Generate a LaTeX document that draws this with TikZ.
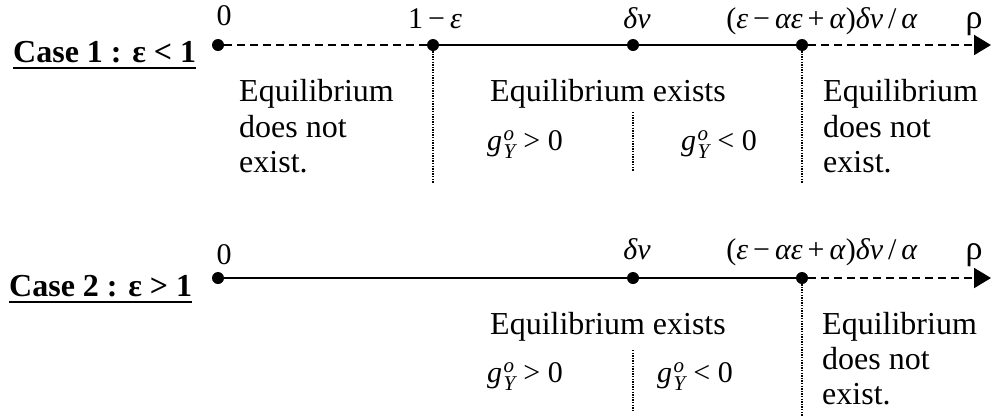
\documentclass[tikz,border=0pt]{standalone}
\usepackage{fontspec}
\usepackage{amsmath}
\setmainfont{Liberation Serif}
\usetikzlibrary{arrows.meta}
\newcommand\gYo{$\textit{g}^{\kern1.5pt\textit{o}}_{\kern1.5pt\textit{Y}}$}
\begin{document}
\begin{tikzpicture}[x=1pt,y=-1pt,
  dot/.style={circle,fill,inner sep=0pt,minimum size=12pt},
  axis/.style={line width=2pt},
  dashaxis/.style={line width=2pt,dash pattern=on 8pt off 5pt},
  vdot/.style={line width=1.3pt,dash pattern=on 1.3pt off 1.3pt},
  lbl/.style={font=\fontsize{30}{34}\selectfont,inner sep=0pt,anchor=base},
  body/.style={font=\fontsize{32}{35.5}\selectfont,inner sep=0pt,anchor=base west},
  gtxt/.style={font=\fontsize{30}{34}\selectfont,inner sep=0pt,anchor=base west},
  case/.style={font=\fontsize{32}{36}\selectfont\bfseries,inner sep=0pt,anchor=base west},
  uline/.style={line width=2.5pt}]
\useasboundingbox (0,0) rectangle (992,416);
% ---------- Case 1 ----------
\node[case] (c1) at (13,62) {Case 1 : ε < 1};
\draw[uline] ([yshift=-6pt]c1.base west) -- ([yshift=-6pt]c1.base east);
\node[dot] (p0) at (218,45) {};
\node[dot] (p1) at (433,45) {};
\node[dot] (p2) at (633,45) {};
\node[dot] (p3) at (802,45) {};
\coordinate (pe) at (991,45);
\draw[dashaxis] (p0) -- (p1);
\draw[axis] (p1) -- (p2);
\draw[axis] (p2) -- (p3);
\draw[dashaxis,-{Triangle[length=17pt,width=20pt]}] (p3) -- (pe);
\node[lbl] (l0) at (224,25) {0};
\node[lbl] (l1) at (435,28) {1\,−\,\textit{ε}};
\node[lbl] (l2) at (637,28) {\textit{δν}};
\node[lbl] (l3) at (822,28) {(\textit{ε}\,−\,\textit{αε}\,+\,\textit{α})\textit{δν}\,/\,\textit{α}};
\node[lbl,font=\fontsize{34}{38}\selectfont] (l4) at (974,28) {ρ};
\coordinate (v1) at (433,183);
\coordinate (v3) at (802,183);
\coordinate (m1a) at (633,112);
\coordinate (m1b) at (633,171);
\draw[vdot] (p1) -- (v1);
\draw[vdot] (p3) -- (v3);
\draw[vdot] (m1a) -- (m1b);
\node[body] (t1a) at (239,101) {Equilibrium};
\node[body] (t1b) at (239,137) {does not};
\node[body] (t1c) at (239,172) {exist.};
\node[body] (t2) at (490,101) {Equilibrium exists};
\node[gtxt] (g1) at (487,150) {\gYo\ > 0};
\node[gtxt] (g2) at (681,150) {\gYo\ < 0};
\node[body] (t3a) at (823,101) {Equilibrium};
\node[body] (t3b) at (823,137) {does not};
\node[body] (t3c) at (823,172) {exist.};
% ---------- Case 2 ----------
\node[case] (c2) at (9,296) {Case 2 : ε > 1};
\draw[uline] ([yshift=-6pt]c2.base west) -- ([yshift=-6pt]c2.base east);
\node[dot] (q0) at (218,278) {};
\node[dot] (q2) at (633,278) {};
\node[dot] (q3) at (802,278) {};
\coordinate (qe) at (991,278);
\draw[axis] (q0) -- (q2);
\draw[axis] (q2) -- (q3);
\draw[dashaxis,-{Triangle[length=17pt,width=20pt]}] (q3) -- (qe);
\node[lbl] (k0) at (224,264) {0};
\node[lbl] (k2) at (637,259) {\textit{δν}};
\node[lbl] (k3) at (822,259) {(\textit{ε}\,−\,\textit{αε}\,+\,\textit{α})\textit{δν}\,/\,\textit{α}};
\node[lbl,font=\fontsize{34}{38}\selectfont] (k4) at (974,259) {ρ};
\coordinate (w3) at (802,416);
\coordinate (m2a) at (633,350);
\coordinate (m2b) at (633,410);
\draw[vdot] (q3) -- (w3);
\draw[vdot] (m2a) -- (m2b);
\node[body] (s2) at (490,334) {Equilibrium exists};
\node[gtxt] (h1) at (487,382) {\gYo\ > 0};
\node[gtxt] (h2) at (657,382) {\gYo\ < 0};
\node[body] (s3a) at (822,334) {Equilibrium};
\node[body] (s3b) at (822,369) {does not};
\node[body] (s3c) at (822,404) {exist.};
\end{tikzpicture}
\end{document}
